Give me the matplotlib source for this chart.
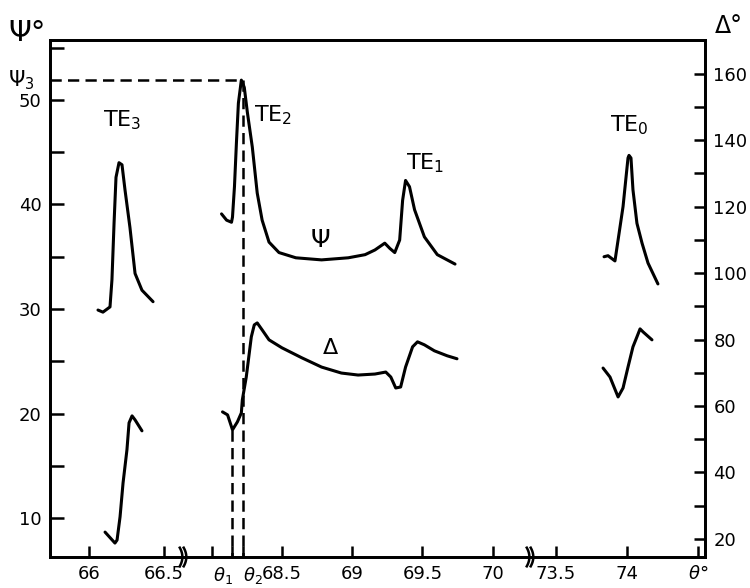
import matplotlib.pyplot as plt
import numpy as np

# ---------------- data ----------------
# TE3 resonance, left block of the broken theta axis
te3_psi_theta = [66.06, 66.093, 66.14, 66.153, 66.167, 66.18, 66.2, 66.22, 66.24, 66.273, 66.307, 66.353, 66.427]
te3_psi = [29.9, 29.7, 30.2, 32.8, 38.2, 42.6, 44.0, 43.8, 41.4, 37.8, 33.4, 31.8, 30.7]
te3_delta_theta = [66.107, 66.173, 66.187, 66.207, 66.227, 66.253, 66.267, 66.287, 66.307, 66.353]
te3_delta = [22.0, 18.7, 19.6, 26.6, 36.8, 46.8, 54.9, 57.0, 55.8, 52.5]

# TE2 + TE1 resonances, middle block
mid_psi_theta = [68.070, 68.106, 68.141, 68.148, 68.162, 68.176, 68.190, 68.211, 68.218, 68.232,
                 68.254, 68.289, 68.324, 68.359, 68.408, 68.479, 68.599, 68.782, 68.972, 69.092,
                 69.162, 69.232, 69.268, 69.303, 69.338, 69.359, 69.380, 69.408, 69.444, 69.514,
                 69.606, 69.732]
mid_psi = [39.1, 38.5, 38.3, 38.8, 41.7, 45.9, 49.7, 51.9, 51.7, 51.2,
           48.8, 45.5, 41.1, 38.5, 36.4, 35.4, 34.9, 34.7, 34.9, 35.2,
           35.65, 36.3, 35.8, 35.4, 36.6, 40.4, 42.3, 41.7, 39.5, 36.9,
           35.2, 34.3]
mid_delta_theta = [68.077, 68.113, 68.148, 68.183, 68.211, 68.218, 68.246, 68.282, 68.303, 68.324,
                   68.359, 68.408, 68.5, 68.641, 68.782, 68.923, 69.042, 69.162, 69.239, 69.275,
                   69.310, 69.345, 69.380, 69.430, 69.465, 69.514, 69.585, 69.676, 69.746]
mid_delta = [58.2, 57.3, 52.8, 55.2, 57.9, 61.8, 68.7, 80.8, 84.4, 85.0,
             82.9, 79.9, 77.5, 74.5, 71.7, 69.9, 69.3, 69.6, 70.2, 68.7,
             65.4, 65.7, 71.7, 77.8, 79.3, 78.4, 76.6, 75.1, 74.2]

# TE0 resonance, right block
te0_psi_theta = [73.838, 73.866, 73.915, 73.937, 73.972, 73.993, 74.007, 74.014, 74.028, 74.042, 74.070, 74.106, 74.148, 74.218]
te0_psi = [35.0, 35.1, 34.6, 36.6, 39.8, 42.6, 44.45, 44.7, 44.45, 41.4, 38.2, 36.3, 34.4, 32.4]
te0_delta_theta = [73.831, 73.880, 73.937, 73.972, 74.007, 74.042, 74.070, 74.092, 74.113, 74.176]
te0_delta = [71.4, 68.7, 62.7, 65.4, 71.7, 77.8, 80.8, 83.2, 82.3, 79.9]

psi3 = 51.9
theta1 = 68.148
theta2 = 68.22
delta_at_theta1 = 52.8

x_ticks = [66, 66.5, 68.0, theta1, theta2, 68.5, 69, 69.5, 70, 73.5, 74, 74.5]
x_labels = ['66', '66.5', '', r'$\theta_1$', r'$\theta_2$', '68.5', '69', '69.5', '70', '73.5', '74', r'$\theta$°']

# ---------------- broken theta axis ----------------
brk_data = [65.74, 66.64, 67.81, 70.28, 73.33, 74.55]
brk_draw = [50, 185, 185.01, 532, 532.01, 705]

def fwd(x):
    return np.interp(x, brk_data, brk_draw)

def inv(u):
    return np.interp(u, brk_draw, brk_data)

plt.rcParams['font.family'] = 'DejaVu Sans'
plt.rcParams['mathtext.fontset'] = 'dejavusans'

fig = plt.figure(figsize=(7.5, 5.88), dpi=100)
ax = fig.add_axes([50 / 750, 1 - 557 / 588, 655 / 750, 517 / 588])
ax2 = ax.twinx()

ax.set_xscale('function', functions=(fwd, inv))
ax.set_xlim(brk_data[0], brk_data[-1])
ax.set_ylim(6.27, 55.74)
ax2.set_ylim(14.5, 170.2)

lw = 2.2
kw = dict(color='black', lw=lw, solid_joinstyle='round', solid_capstyle='round')
ax.plot(te3_psi_theta, te3_psi, **kw)
ax.plot(mid_psi_theta, mid_psi, **kw)
ax.plot(te0_psi_theta, te0_psi, **kw)
ax2.plot(te3_delta_theta, te3_delta, **kw)
ax2.plot(mid_delta_theta, mid_delta, **kw)
ax2.plot(te0_delta_theta, te0_delta, **kw)

# dashed guide lines for psi3, theta1, theta2
dkw = dict(color='black', lw=1.8, dashes=(4.5, 2.5))
ax.plot([brk_data[0], 68.211], [psi3, psi3], **dkw)
ax.plot([theta2, theta2], [psi3, 6.27], **dkw)
ax2.plot([theta1, theta1], [delta_at_theta1, 14.5], **dkw)

# spines / ticks
for a in (ax, ax2):
    for s in a.spines.values():
        s.set_linewidth(2.0)
ax.set_xticks(x_ticks)
ax.set_xticklabels(x_labels)
ax.set_yticks([10, 20, 30, 40, 50])
ax.set_yticks([15, 25, 35, 45, 55], minor=True)
ax2.set_yticks([20, 40, 60, 80, 100, 120, 140, 160])
ax2.set_yticks([30, 50, 70, 90, 110, 130, 150], minor=True)
ax.xaxis.set_minor_locator(plt.NullLocator())
ax.tick_params(axis='x', direction='in', length=8, width=1.8, labelsize=13, pad=6)
ax.tick_params(axis='y', which='both', direction='in', length=10, width=1.8, labelsize=13, pad=6)
ax2.tick_params(axis='y', which='both', direction='in', length=8, width=1.8, labelsize=13, pad=6)
xl = ax.get_xticklabels()
xl[3].set_ha('right')
xl[4].set_ha('left')

# axis break marks
for xb in [(185 - 50) / 655, (532 - 50) / 655]:
    yy = np.linspace(-0.018, 0.018, 20)
    for dx in (-0.006, 0.0):
        ax.plot(xb + dx + 0.004 * (1 - (yy / 0.018) ** 2) - 0.002, yy, color='black', lw=1.8,
                transform=ax.transAxes, clip_on=False)

# curve annotations
ax.text(66.093, 48.1, r'TE$_3$', fontsize=16, va='center', ha='left')
ax.text(68.303, 48.56, r'TE$_2$', fontsize=16, va='center', ha='left')
ax.text(69.38, 43.97, r'TE$_1$', fontsize=16, va='center', ha='left')
ax.text(73.88, 47.6, r'TE$_0$', fontsize=16, va='center', ha='left')
ax.text(68.775, 36.6, 'Ψ', fontsize=18, va='center', ha='center')
ax.text(68.845, 26.3, 'Δ', fontsize=16, va='center', ha='center')

fig.text(8 / 750, 1 - 33 / 588, 'Ψ°', fontsize=21, va='center', ha='left')
fig.text(715 / 750, 1 - 26 / 588, 'Δ°', fontsize=17, va='center', ha='left')
fig.text(8 / 750, 1 - 80 / 588, r'Ψ$_3$', fontsize=15, va='center', ha='left')

fig.savefig('out.png', dpi=100)
